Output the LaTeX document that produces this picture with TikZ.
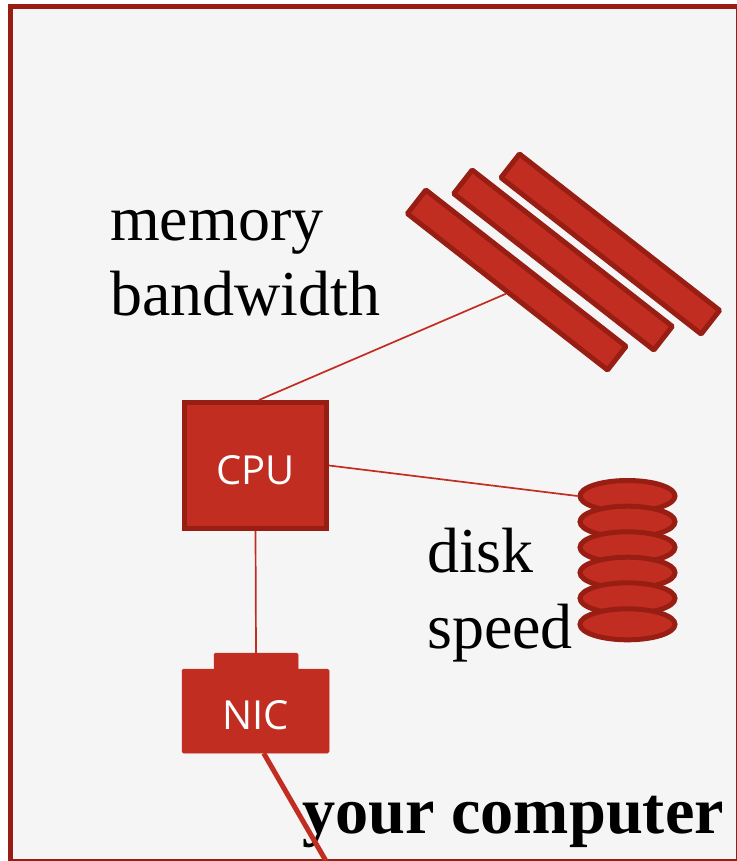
\documentclass[tikz,border=0pt]{standalone}
\usepackage{fontspec}
\usepackage{xcolor}
\setmainfont{Liberation Serif}
\newfontfamily\labelsans{Open Sans}
\usetikzlibrary{shapes.geometric}
\definecolor{partred}{HTML}{C22D22}
\definecolor{edgered}{HTML}{981D12}
\definecolor{boxgray}{HTML}{F5F5F5}
\tikzset{
  part/.style={draw=edgered, line width=5pt, fill=partred, inner sep=0pt},
  membar/.style={part, rectangle, rounded corners=1pt, minimum width=254pt, minimum height=30pt, rotate=-38},
  platter/.style={part, ellipse, minimum width=95pt, minimum height=31pt},
  nicbody/.style={fill=partred, draw=partred, line width=0.5pt, rounded corners=1.5pt, inner sep=0pt},
  wire/.style={draw=partred, line width=1.7pt},
  uplink/.style={draw=partred, line width=5pt},
  biglabel/.style={anchor=base west, inner sep=0pt, font=\fontsize{64}{75}\selectfont},
  chiplabel/.style={text=white, font=\labelsans\fontsize{40}{40}\selectfont}
}
\begin{document}
\begin{tikzpicture}[x=1pt, y=-1pt]
\useasboundingbox (0,0) rectangle (736,861);
\draw[draw=edgered, line width=5pt, fill=boxgray] (10.5,6.5) rectangle (738,861.5);

\node[membar] (mem3) at (610.3,244) {};
\node[membar] (mem2) at (563,260) {};
\node[membar] (mem1) at (516.7,280) {};

\node[part, rectangle, minimum width=142pt, minimum height=126pt, chiplabel] (cpu) at (255.5,465.5) {\raisebox{-18.5pt}[0pt][0pt]{CPU}};

\node[platter] (disk1) at (627.5,496) {};
\node[platter] (disk2) at (627.5,521.7) {};
\node[platter] (disk3) at (627.5,547.3) {};
\node[platter] (disk4) at (627.5,572.7) {};
\node[platter] (disk5) at (627.5,598.3) {};
\node[platter] (disk6) at (627.5,624.3) {};

\node[nicbody, minimum width=84pt, minimum height=20pt] (nictab) at (256,663) {};
\node[nicbody, minimum width=147pt, minimum height=84pt, chiplabel] (nic) at (255.5,711) {\raisebox{-18.5pt}[0pt][0pt]{NIC}};
\coordinate (netend) at (326,861);

\node[biglabel] (memlabel) at (110,240) {memory};
\node[biglabel] (bwlabel) at (110,315) {bandwidth};
\node[biglabel] (disklabel) at (427,572) {disk};
\node[biglabel] (speedlabel) at (427,648) {speed};
\node[biglabel, font=\fontsize{66.3}{75}\selectfont\bfseries] (boxlabel) at (302,833) {your computer};

\draw[wire] (cpu.87) -- (mem1.south);
\draw[wire] (cpu.east) -- (disk1.west);
\draw[wire] (cpu.south) -- (nictab.north);
\draw[uplink] (nic.-79) -- (netend);
\end{tikzpicture}
\end{document}
